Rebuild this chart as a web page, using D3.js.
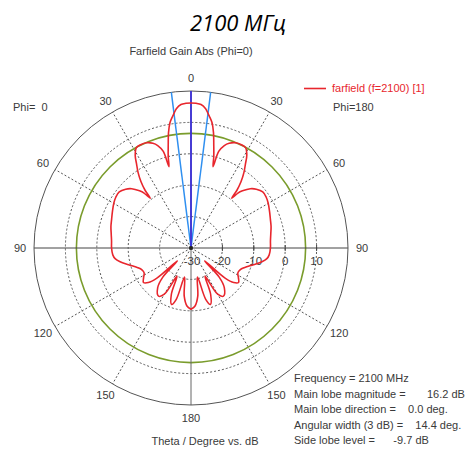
<!DOCTYPE html>
<html lang="ru">
<head>
<meta charset="UTF-8">
<title>2100 МГц - Farfield Gain Abs (Phi=0)</title>
<script src="https://d3js.org/d3.v7.min.js"></script>
<style>
  body { margin: 0; background: #fff; }
  svg { display: block; }
  text { font-family: "Liberation Sans", Arial, sans-serif; font-size: 10.5px; fill: #3a3a3a; white-space: pre; }
</style>
</head>
<body>
<svg width="466" height="451"></svg>
<script>
// farfield cut, theta 0..180 deg (pattern is symmetric: Phi=180 right, Phi=0 left)
const thetaDeg = [0, 2, 4, 6, 7.2, 8, 9.5, 11, 12.5, 14, 15.2, 16, 18, 20, 23, 26, 28.5, 31, 33, 35, 37, 38.5, 39.3,
  40.5, 42, 45, 48, 52, 56, 60, 65, 70, 75, 80, 85, 90, 95, 98, 101, 105, 110, 114, 118, 122, 126, 129, 131.5,
  133.5, 136, 140, 146, 150, 153.5, 157, 161, 164, 167.5, 172, 176, 180];
const gainDb = [16.2, 16.1, 15.8, 14.6, 13.2, 12.3, 10.5, 7.5, 3.5, 0.0, -3.2, 2.0, 4.3, 5.5, 6.4, 6.6, 6.4, 4.5, 1.8, -0.6, -3.5, -6.5, -9.5,
  -7.0, -5.5, -3.3, -2.0, -1.0, -1.1, -1.6, -2.4, -3.1, -3.6, -4.2, -4.6, -4.7, -5.0, -5.6, -7.0, -9.4, -11.8, -12.9, -13.1, -12.2, -11.3, -12.5, -15.5,
  -24, -17, -13.5, -11.5, -13, -20, -14, -11, -13, -20.5, -14.5, -11.5, -10.5];

const angleTicks = [0, 30, 60, 90, 120, 150, 180];
const radialTicks = [-30, -20, -10, 0, 10];
const radialDomain = [-30, 20];

const mainLobeMagnitude = 16.2;
const mainLobeDirection = 0.0;
const angularWidth = 14.4;
const sideLobeLevel = -9.7;

const chartTitle = "2100 МГц";
const plotTitle = "Farfield Gain Abs (Phi=0)";
const legendLabel = "farfield (f=2100) [1]";
const axisTitle = "Theta / Degree vs. dB";
const infoLines = [
  "Frequency = 2100 MHz",
  "Main lobe magnitude =       16.2 dB",
  "Main lobe direction =    0.0 deg.",
  "Angular width (3 dB) =    14.4 deg.",
  "Side lobe level =      -9.7 dB"
];

const svg = d3.select("svg");
const cx = 191, cy = 248, R = 157;
const rad = Math.PI / 180;

const r = d3.scaleLinear().domain(radialDomain).range([0, R]).clamp(true);

const g = svg.append("g").attr("transform", `translate(${cx},${cy})`);

// polar point helper: angle from top, clockwise
const px = (a, rr) => rr * Math.sin(a * rad);
const py = (a, rr) => -rr * Math.cos(a * rad);

// dashed grid circles
g.selectAll("circle.grid")
  .data(radialTicks.filter(d => d > radialDomain[0]))
  .enter().append("circle")
  .attr("class", "grid")
  .attr("r", d => r(d))
  .attr("fill", "none")
  .attr("stroke", "#555")
  .attr("stroke-width", 1)
  .attr("stroke-dasharray", "2,2");

// dashed spokes every 30 deg on both sides (except the axes)
const spokes = angleTicks.filter(a => a % 90 !== 0).flatMap(a => [a, -a]);
g.selectAll("line.spoke")
  .data(spokes)
  .enter().append("line")
  .attr("class", "spoke")
  .attr("x1", 0).attr("y1", 0)
  .attr("x2", d => px(d, R)).attr("y2", d => py(d, R))
  .attr("stroke", "#555")
  .attr("stroke-width", 1)
  .attr("stroke-dasharray", "2,2");

// side lobe level circle
g.append("circle")
  .attr("r", r(mainLobeMagnitude + sideLobeLevel))
  .attr("fill", "none")
  .attr("stroke", "#7a9c2c")
  .attr("stroke-width", 1.6);

// solid axes
g.append("line")
  .attr("x1", -R).attr("y1", 0).attr("x2", R).attr("y2", 0)
  .attr("stroke", "#444").attr("stroke-width", 1);
g.append("line")
  .attr("x1", 0).attr("y1", -R).attr("x2", 0).attr("y2", R)
  .attr("stroke", "#666").attr("stroke-width", 1);

// outer circle
g.append("circle")
  .attr("r", R)
  .attr("fill", "none")
  .attr("stroke", "#555")
  .attr("stroke-width", 1);

// radial ticks and labels on the horizontal axis
g.selectAll("line.rtick")
  .data(radialTicks.filter(d => d > radialDomain[0]))
  .enter().append("line")
  .attr("x1", d => r(d)).attr("x2", d => r(d))
  .attr("y1", -3).attr("y2", 3)
  .attr("stroke", "#444");
g.selectAll("text.rlab")
  .data(radialTicks)
  .enter().append("text")
  .attr("class", "rlab")
  .attr("x", d => r(d) + (d === radialDomain[0] ? 1 : 0))
  .attr("y", 13)
  .attr("dy", "0.35em")
  .attr("text-anchor", "middle")
  .style("font-size", "11.5px")
  .text(d => d);

// angle labels, both halves
const angleLabels = angleTicks.flatMap(a => (a === 0 || a === 180) ? [{ a, s: 1 }] : [{ a, s: 1 }, { a, s: -1 }]);
g.selectAll("text.alab")
  .data(angleLabels)
  .enter().append("text")
  .attr("x", d => px(d.a * d.s, R + 14))
  .attr("y", d => py(d.a * d.s, R + 13))
  .attr("dy", "0.35em")
  .attr("text-anchor", "middle")
  .style("font-size", "11px")
  .text(d => d.a);

// beam lines: main lobe direction and 3 dB width
g.selectAll("line.beam")
  .data([mainLobeDirection - angularWidth / 2, mainLobeDirection + angularWidth / 2])
  .enter().append("line")
  .attr("x1", 0).attr("y1", 0)
  .attr("x2", d => px(d, R)).attr("y2", d => py(d, R))
  .attr("stroke", "#2f8ff0")
  .attr("stroke-width", 1.5);
g.append("line")
  .attr("x1", 0).attr("y1", 0)
  .attr("x2", px(mainLobeDirection, R)).attr("y2", py(mainLobeDirection, R))
  .attr("stroke", "#3b2fd8")
  .attr("stroke-width", 1.8);

// pattern curve: left half (Phi=0) mirrored, right half (Phi=180)
const right = thetaDeg.map((t, i) => ({ a: t, v: gainDb[i] }));
const left = right.slice(1).map(d => ({ a: -d.a, v: d.v })).reverse();
const pattern = left.concat(right);

const line = d3.lineRadial()
  .angle(d => d.a * rad)
  .radius(d => r(d.v))
  .curve(d3.curveCatmullRom.alpha(0.5));

g.append("path")
  .datum(pattern)
  .attr("d", line)
  .attr("fill", "none")
  .attr("stroke", "#e8262d")
  .attr("stroke-width", 1.6)
  .attr("stroke-linejoin", "round");

g.append("circle").attr("r", 2).attr("fill", "#222");

// titles
svg.append("text")
  .attr("x", 238).attr("y", 31)
  .attr("text-anchor", "middle")
  .style("font-family", "'Open Sans', sans-serif")
  .style("font-style", "italic")
  .style("font-size", "22px")
  .style("fill", "#000")
  .text(chartTitle);

svg.append("text")
  .attr("x", cx).attr("y", 55)
  .attr("text-anchor", "middle")
  .style("font-size", "11px")
  .text(plotTitle);

// legend
svg.append("line")
  .attr("x1", 304).attr("x2", 326).attr("y1", 88.5).attr("y2", 88.5)
  .attr("stroke", "#e8262d").attr("stroke-width", 1.6);
svg.append("text")
  .attr("x", 332).attr("y", 92)
  .style("fill", "#e8262d")
  .style("font-size", "11px")
  .text(legendLabel);
svg.append("text")
  .attr("x", 333).attr("y", 111)
  .style("font-size", "11px")
  .text("Phi=180");
svg.append("text")
  .attr("x", 13).attr("y", 111)
  .style("font-size", "11px")
  .text("Phi=  0");

// axis title
svg.append("text")
  .attr("x", cx + 14).attr("y", 445)
  .attr("text-anchor", "middle")
  .style("font-size", "11px")
  .text(axisTitle);

// summary block
svg.selectAll("text.info")
  .data(infoLines)
  .enter().append("text")
  .attr("class", "info")
  .attr("x", 294)
  .attr("y", (d, i) => 382 + i * 15.6)
  .style("font-size", "11px")
  .text(d => d);
</script>
</body>
</html>
